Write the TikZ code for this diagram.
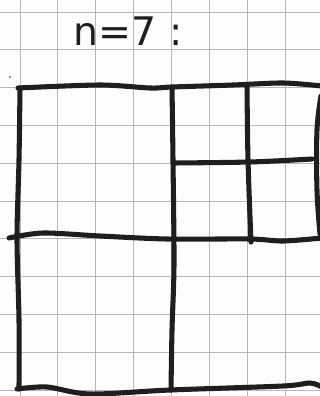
\documentclass[tikz,border=0pt]{standalone}
\usepackage{fontspec}
\setsansfont{DejaVu Sans}
\usetikzlibrary{positioning}
\definecolor{cink}{HTML}{1E1E1E}
\definecolor{cpaper}{HTML}{FDFDFD}
\definecolor{cgridline}{HTML}{B8B8B8}
\tikzset{
  every picture/.style={font=\sffamily},
  gridline/.style={draw=cgridline, line width=0.6pt},
  pen/.style={draw=cink, line width=3.6pt, line cap=round, line join=round},
  label/.style={font=\sffamily\fontsize{28}{28}\selectfont, text=cink, inner sep=0pt},
}

\begin{document}
\begin{tikzpicture}[x=0.025cm, y=-0.025cm]
  % ---- paper and squared grid ----
  \useasboundingbox (0,0) rectangle (320,396);
  \clip (0,0) rectangle (320,396);
  \fill[cpaper] (0,0) rectangle (320,396);
  \foreach \k in {0,...,7} \draw[gridline] ({20+37.9*\k},0) -- ({20+37.9*\k},396);
  \foreach \k in {0,...,10} \draw[gridline] (0,{12+37.8*\k}) -- (320,{12+37.8*\k});
  % ---- title ----
  \node[label, anchor=base west] (title) at (73,45) {n=7\,\,:};
  % ---- hand-drawn partition ----
  \draw[pen] plot[smooth, tension=0.5] coordinates {(18,88) (100,85) (150,88) (172,87) (233,85) (283,83) (322,86)};
  \draw[pen] plot[smooth, tension=0.5] coordinates {(20,88) (19,160) (17,238) (19,320) (19,389)};
  \draw[pen] plot[smooth, tension=0.5] coordinates {(9,238) (43,233) (100,236) (167,239) (250,239) (283,241) (322,238)};
  \draw[pen] plot[smooth, tension=0.5] coordinates {(17,389) (47,387) (90,394) (170,390) (283,386) (310,383) (322,387)};
  \draw[pen] plot[smooth, tension=0.5] coordinates {(172,87) (173,160) (174,264) (172,330) (171,390)};
  \draw[pen] plot[smooth, tension=0.5] coordinates {(247,85) (248,160) (251,242)};
  \draw[pen] plot[smooth, tension=0.5] coordinates {(173,163) (250,162) (312,159)};
  \draw[pen] plot[smooth, tension=0.6] coordinates {(321,96) (317,130) (317,190) (320,234)};
  % ---- stray pencil mark ----
  \fill[cink] (10,77) circle (0.9);
\end{tikzpicture}
\end{document}
